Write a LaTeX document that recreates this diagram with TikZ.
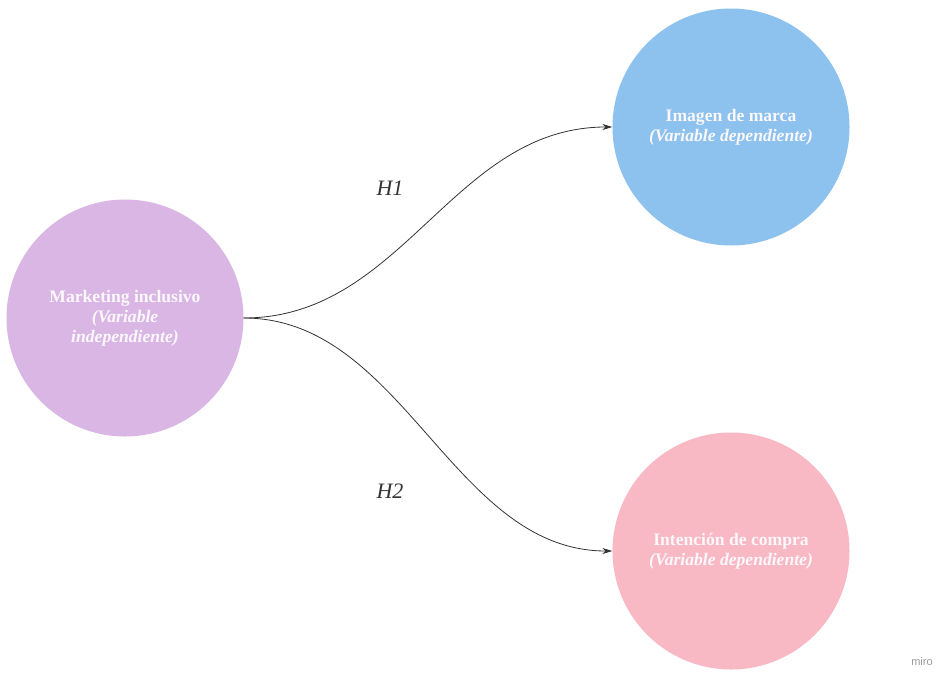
\documentclass[tikz,border=0pt]{standalone}
\usepackage{fontspec}
\setmainfont{Liberation Serif}
\setsansfont{Liberation Sans}
\usetikzlibrary{arrows.meta}
\definecolor{cpurple}{HTML}{DAB6E4}
\definecolor{cblue}{HTML}{8DC1EE}
\definecolor{cpink}{HTML}{F9B9C4}
\definecolor{cline}{HTML}{333333}
\definecolor{ctext}{HTML}{FBF8FC}
\tikzset{
  var/.style={circle, inner sep=0pt, minimum size=237pt, text=ctext, align=center,
    font=\fontsize{17.6}{20}\selectfont\bfseries},
  link/.style={draw=cline, line width=0.8pt, -{Stealth[length=10pt,width=6pt]}},
  hyp/.style={text=cline, font=\fontsize{22}{24}\selectfont\itshape},
}
\begin{document}
\begin{tikzpicture}[x=1pt,y=-1pt]
\useasboundingbox[fill=white] (0,0) rectangle (942,672);
\node[var, fill=cpurple] (m) at (125,318) {Marketing inclusivo\\\textit{(Variable}\\\textit{independiente)}};
\node[var, fill=cblue] (b) at (731,127) {Imagen de marca\\\textit{(Variable dependiente)}};
\node[var, fill=cpink] (c) at (731,551) {Intención de compra\\\textit{(Variable dependiente)}};
\draw[link] (m.east) .. controls +(160,0) and +(-160,0) .. (b.west);
\draw[link] (m.east) .. controls +(160,0) and +(-160,0) .. (c.west);
\node[hyp] (h1) at (390,188) {H1};
\node[hyp] (h2) at (390,491) {H2};
\node[text=black!40, font=\sffamily\fontsize{11}{12}\selectfont] (w) at (922,662) {miro};
\end{tikzpicture}
\end{document}
